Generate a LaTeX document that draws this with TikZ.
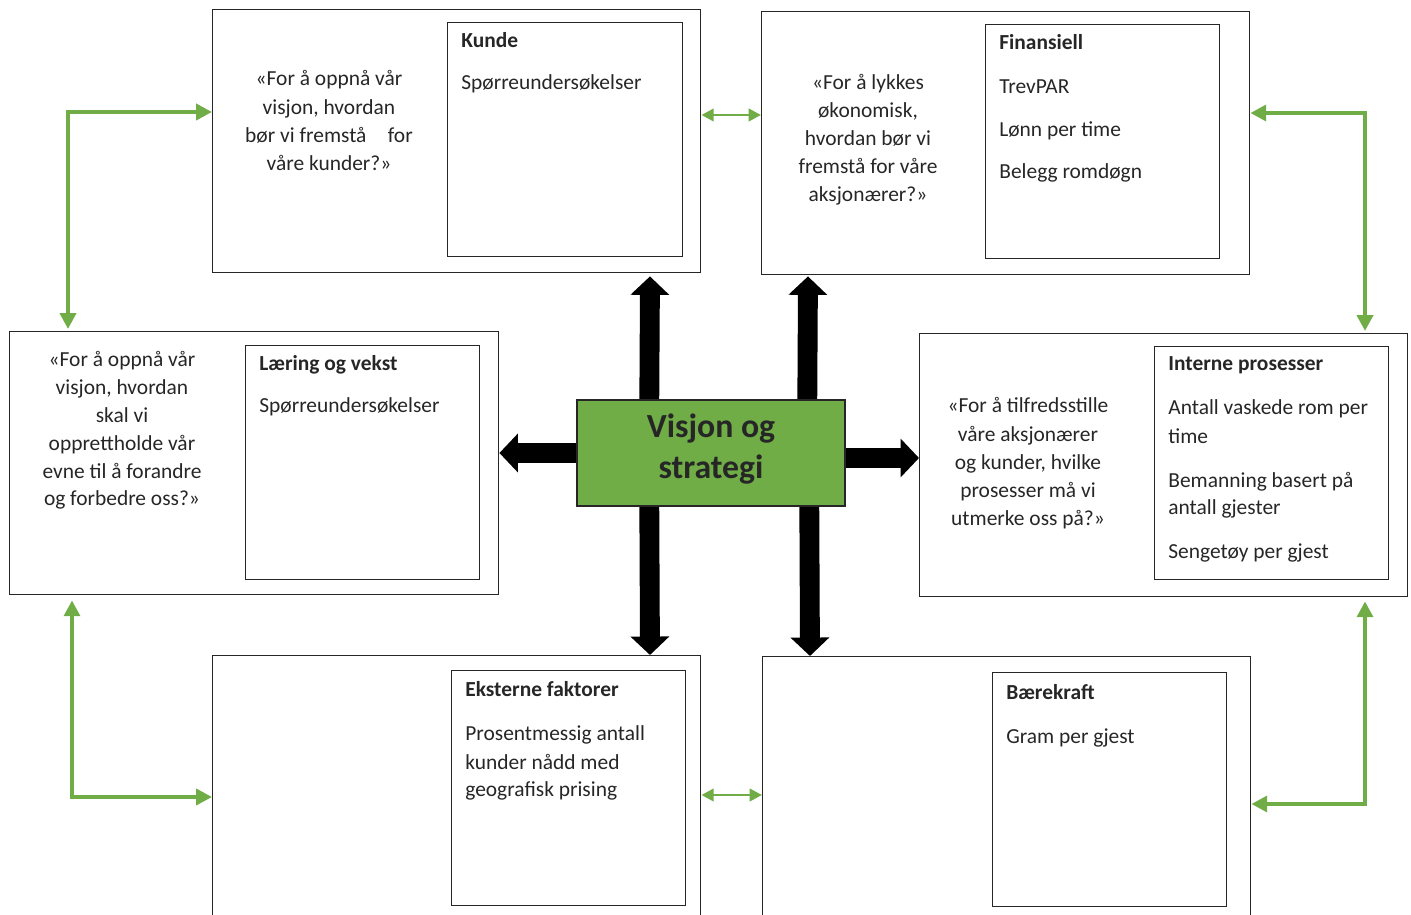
\documentclass[tikz,border=0pt]{standalone}
\usepackage{fontspec}
\setmainfont{Carlito}
\usetikzlibrary{arrows.meta,calc}
\definecolor{accent}{HTML}{70AD47}
\definecolor{edge}{HTML}{262626}

\begin{document}
\begin{tikzpicture}[x=0.02cm,y=-0.02cm,
  box/.style n args={2}{draw=edge, line width=0.8pt, anchor=north west, inner sep=0pt,
    minimum width=#1*0.02cm, minimum height=#2*0.02cm},
  txt/.style={font=\fontsize{12.2}{15}\selectfont, text=edge, inner sep=0pt, anchor=base},
  lst/.style={txt, anchor=base west},
  hd/.style={lst, font=\bfseries\fontsize{12.2}{15}\selectfont},
  bigarrow/.style={black, line width=11.3pt, -{Triangle[width=21.5pt,length=10.5pt]}},
  garrow/.style={accent, line width=2.8pt,
    {Triangle[width=9pt,length=9pt]}-{Triangle[width=9pt,length=9pt]}},
  sarrow/.style={accent, line width=1.7pt,
    {Triangle[width=7pt,length=7pt]}-{Triangle[width=7pt,length=7pt]}}]

\useasboundingbox (0,0) rectangle (1411,915);

% perspective frames
\node[box={488}{263}] (kunde)  at (212,9)   {};
\node[box={488}{263}] (fin)    at (761,11)  {};
\node[box={489}{263}] (laer)   at (9,331)   {};
\node[box={488}{263}] (intern) at (919,333) {};
\node[box={488}{290}] (ekst)   at (212,655) {};
\node[box={488}{290}] (baer)   at (762,656) {};

% measure boxes
\node[box={235}{234}] (kundein)  at (447,22)  {};
\node[box={234}{234}] (finin)    at (985,24)  {};
\node[box={234}{234}] (laerin)   at (245,345) {};
\node[box={234}{233}] (internin) at (1154,346) {};
\node[box={234}{235}] (ekstin)   at (451,670) {};
\node[box={234}{234}] (baerin)   at (992,672) {};

% centre block
\node[draw=edge, fill=accent, line width=0.8pt, inner sep=0pt,
      minimum width=268*0.02cm, minimum height=106*0.02cm] (vis) at (711,453) {};

% thick arrows out of the centre
\draw[bigarrow] ($(vis.north west)+(73,0)$)  -- ($(kunde.south west)+(438,3)$);
\draw[bigarrow] ($(vis.north west)+(231,0)$) -- ($(fin.south west)+(47,1)$);
\draw[bigarrow] ($(vis.south west)+(73,0)$)  -- ($(ekst.north west)+(438,0)$);
\draw[bigarrow] ($(vis.south west)+(233,0)$) -- ($(baer.north west)+(48,0)$);
\draw[bigarrow] (vis.west) -- (vis.west -| laer.east);
\draw[bigarrow] ($(vis.east)+(0,5)$) coordinate (re) -- (re -| intern.west);
\node[draw=edge, fill=accent, line width=0.8pt, inner sep=0pt,
      minimum width=268*0.02cm, minimum height=106*0.02cm] (visfront) at (vis) {};
\node[txt, font=\bfseries\fontsize{19.2}{24}\selectfont] (vt1) at (711,438) {Visjon og};
\node[txt, font=\bfseries\fontsize{19.2}{24}\selectfont] (vt2) at (711,479) {strategi};

% green links between the frames
\draw[garrow] ($(laer.north west)+(59,-2)$) |- ($(kunde.north west)+(0,103)$);
\draw[garrow] ($(fin.north east)+(0,102)$) -| ($(intern.north west)+(446,-2)$);
\draw[garrow] ($(laer.south west)+(63,5)$) |- ($(ekst.north west)+(0,142)$);
\draw[garrow] ($(intern.south west)+(446,4)$) |- ($(baer.north east)+(0,148)$);
\draw[sarrow] ($(kunde.north east)+(0,106)$) coordinate (s1) -- (s1 -| fin.west);
\draw[sarrow] ($(ekst.north east)+(0,140)$) coordinate (s2) -- (s2 -| baer.west);

% questions
\foreach \t [count=\i] in {«For å oppnå vår,{visjon, hvordan},bør vi fremstå\hspace{1em}for,våre kunder?»}
  \node[txt] (kq\i) at (329,{86+28.2*(\i-1)}) {\t};
\foreach \t [count=\i] in {«For å lykkes,{økonomisk,},hvordan bør vi,fremstå for våre,aksjonærer?»}
  \node[txt] (fq\i) at (868,{90+28*(\i-1)}) {\t};
\foreach \t [count=\i] in {«For å oppnå vår,{visjon, hvordan},skal vi,opprettholde vår,evne til å forandre,og forbedre oss?»}
  \node[txt] (lq\i) at (122,{367+27.8*(\i-1)}) {\t};
\foreach \t [count=\i] in {«For å tilfredsstille,våre aksjonærer,{og kunder, hvilke},prosesser må vi,utmerke oss på?»}
  \node[txt] (iq\i) at (1028,{413+28.2*(\i-1)}) {\t};

% measures
\node[hd]  (kh)  at (461,48) {Kunde};
\node[lst] (k1)  at (461,90) {Spørreundersøkelser};

\node[hd]  (fh)  at (999,50)  {Finansiell};
\node[lst] (f1)  at (999,94)  {TrevPAR};
\node[lst] (f2)  at (999,137) {Lønn per time};
\node[lst] (f3)  at (999,179) {Belegg romdøgn};

\node[hd]  (lh)  at (259,371) {Læring og vekst};
\node[lst] (l1)  at (259,413) {Spørreundersøkelser};

\node[hd]  (ih)  at (1168,371) {Interne prosesser};
\node[lst] (i1)  at (1168,415) {Antall vaskede rom per};
\node[lst] (i2)  at (1168,444) {time};
\node[lst] (i3)  at (1168,488) {Bemanning basert på};
\node[lst] (i4)  at (1168,515) {antall gjester};
\node[lst] (i5)  at (1168,559) {Sengetøy per gjest};

\node[hd]  (eh)  at (465,697) {Eksterne faktorer};
\node[lst] (e1)  at (465,741) {Prosentmessig antall};
\node[lst] (e2)  at (465,769) {kunder nådd med};
\node[lst] (e3)  at (465,796) {geografisk prising};

\node[hd]  (bh)  at (1006,700) {Bærekraft};
\node[lst] (b1)  at (1006,744) {Gram per gjest};
\end{tikzpicture}
\end{document}
